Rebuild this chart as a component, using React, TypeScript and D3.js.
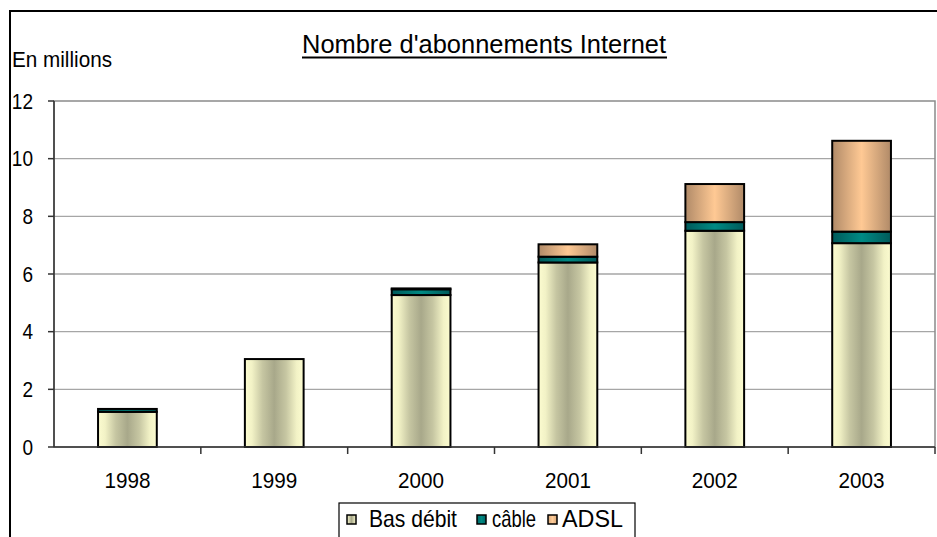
import React from "react";
import * as d3 from "d3";

const years = ["1998", "1999", "2000", "2001", "2002", "2003"];
const basDebit = [1.22, 3.05, 5.27, 6.4, 7.5, 7.07];
const cable = [0.1, 0.0, 0.2, 0.2, 0.3, 0.4];
const adsl = [0.0, 0.0, 0.03, 0.43, 1.32, 3.15];
const seriesNames = ["Bas débit", "câble", "ADSL"];
const yTicks = [0, 2, 4, 6, 8, 10, 12];

const W = 937;
const H = 537;
const plot = { left: 54, right: 935, top: 101, bottom: 447 };
const SY = 1.18;

function T(props: any) {
  const { x, y, children, anchor, size, len } = props;
  return (
    <text
      transform={`translate(${x},${y}) scale(1,${SY})`}
      textAnchor={anchor || "start"}
      fontSize={size}
      fill="#000"
      textLength={len}
      lengthAdjust={len ? "spacingAndGlyphs" : undefined}
    >
      {children}
    </text>
  );
}

export default function App() {
  const x = d3
    .scaleBand<string>()
    .domain(years)
    .range([plot.left, plot.right])
    .paddingInner(0.6)
    .paddingOuter(0.3);
  const y = d3.scaleLinear().domain([0, 12]).range([plot.bottom, plot.top]);

  const rows = years.map((yr, i) => ({
    year: yr,
    "Bas débit": basDebit[i],
    "câble": cable[i],
    ADSL: adsl[i],
  }));
  const stack = d3.stack<any>().keys(seriesNames)(rows);
  const grads = ["gBas", "gCab", "gAdsl"];
  const swatchFill = ["url(#gBasS)", "url(#gCabS)", "url(#gAdslS)"];

  const bandStep = (plot.right - plot.left) / years.length;
  const font = "'Liberation Sans', Arial, sans-serif";

  return (
    <svg
      width={W}
      height={H}
      style={{ position: "absolute", left: 0, top: 0, background: "#fff" }}
      fontFamily={font}
    >
      <defs>
        <linearGradient id="gBas" x1="0" x2="1" y1="0" y2="0">
          <stop offset="0" stopColor="#fcfcd0" />
          <stop offset="0.12" stopColor="#f2f2c6" />
          <stop offset="0.3" stopColor="#c6c6a2" />
          <stop offset="0.5" stopColor="#a8a88a" />
          <stop offset="0.7" stopColor="#c6c6a2" />
          <stop offset="0.88" stopColor="#f2f2c6" />
          <stop offset="1" stopColor="#fcfcd0" />
        </linearGradient>
        <linearGradient id="gCab" x1="0" x2="1" y1="0" y2="0">
          <stop offset="0" stopColor="#005a5a" />
          <stop offset="0.5" stopColor="#008a84" />
          <stop offset="1" stopColor="#005a5a" />
        </linearGradient>
        <linearGradient id="gAdsl" x1="0" x2="1" y1="0" y2="0">
          <stop offset="0" stopColor="#b08a68" />
          <stop offset="0.5" stopColor="#ffc994" />
          <stop offset="1" stopColor="#b08a68" />
        </linearGradient>
        <linearGradient id="gBasS" x1="0" x2="1" y1="0" y2="0">
          <stop offset="0" stopColor="#f8f8cc" />
          <stop offset="0.5" stopColor="#a8a88a" />
          <stop offset="1" stopColor="#f8f8cc" />
        </linearGradient>
        <linearGradient id="gCabS" x1="0" x2="1" y1="0" y2="0">
          <stop offset="0" stopColor="#006666" />
          <stop offset="0.5" stopColor="#008a84" />
          <stop offset="1" stopColor="#006666" />
        </linearGradient>
        <linearGradient id="gAdslS" x1="0" x2="1" y1="0" y2="0">
          <stop offset="0" stopColor="#d8a878" />
          <stop offset="0.5" stopColor="#ffcc99" />
          <stop offset="1" stopColor="#d8a878" />
        </linearGradient>
      </defs>

      {/* outer frame */}
      <rect x={10} y={11} width={940} height={540} fill="none" stroke="#000" strokeWidth={2} />

      {/* title */}
      <T x={484} y={53} anchor="middle" size={22} len={364}>Nombre d'abonnements Internet</T>
      <line x1={302} x2={667} y1={57.5} y2={57.5} stroke="#000" strokeWidth={2} />

      <T x={12} y={67} size={18} len={100}>En millions</T>

      {/* gridlines */}
      {yTicks.filter((t) => t > 0 && t < 12).map((t) => (
        <line key={t} x1={plot.left} x2={plot.right} y1={y(t)} y2={y(t)} stroke="#a6a6a6" strokeWidth={1.3} />
      ))}
      {/* plot border */}
      <rect
        x={plot.left}
        y={plot.top}
        width={plot.right - plot.left}
        height={plot.bottom - plot.top}
        fill="none"
        stroke="#8a8a8a"
        strokeWidth={1.5}
      />

      {/* bars */}
      {stack.map((s, si) => (
        <g key={s.key}>
          {s.map((d, i) => {
            const h = y(d[0]) - y(d[1]);
            if (h <= 0.01) return null;
            return (
              <rect
                key={i}
                x={x(years[i])!}
                y={y(d[1])}
                width={x.bandwidth()}
                height={h}
                fill={`url(#${grads[si]})`}
                stroke="#000"
                strokeWidth={2}
              />
            );
          })}
        </g>
      ))}

      {/* axes */}
      <line x1={plot.left} x2={plot.left} y1={plot.top} y2={plot.bottom} stroke="#333" strokeWidth={1.5} />
      <line x1={plot.left} x2={plot.right} y1={plot.bottom} y2={plot.bottom} stroke="#333" strokeWidth={1.5} />
      {yTicks.map((t) => (
        <g key={t}>
          <line x1={plot.left - 6} x2={plot.left} y1={y(t)} y2={y(t)} stroke="#333" strokeWidth={1.5} />
          <T x={33} y={y(t) + 7.5} anchor="end" size={19}>{t}</T>
        </g>
      ))}
      {d3.range(1, years.length + 1).map((k) => {
        const xx = plot.left + k * bandStep;
        return <line key={k} x1={xx} x2={xx} y1={plot.bottom} y2={plot.bottom + 7} stroke="#333" strokeWidth={1.5} />;
      })}
      {years.map((yr) => (
        <T key={yr} x={x(yr)! + x.bandwidth() / 2} y={488} anchor="middle" size={19} len={46}>
          {yr}
        </T>
      ))}

      {/* legend */}
      <rect x={339} y={503} width={296} height={60} fill="#fff" stroke="#000" strokeWidth={1.2} />
      {(() => {
        const items = [
          { sw: 347, tx: 369, len: 88 },
          { sw: 477, tx: 492, len: 44 },
          { sw: 548, tx: 562, len: 61 },
        ];
        return seriesNames.map((n, i) => (
          <g key={n}>
            <rect x={items[i].sw} y={515} width={9} height={9} fill={swatchFill[i]} stroke="#000" strokeWidth={1.5} />
            <T x={items[i].tx} y={527} size={20} len={items[i].len}>{n}</T>
          </g>
        ));
      })()}
    </svg>
  );
}
